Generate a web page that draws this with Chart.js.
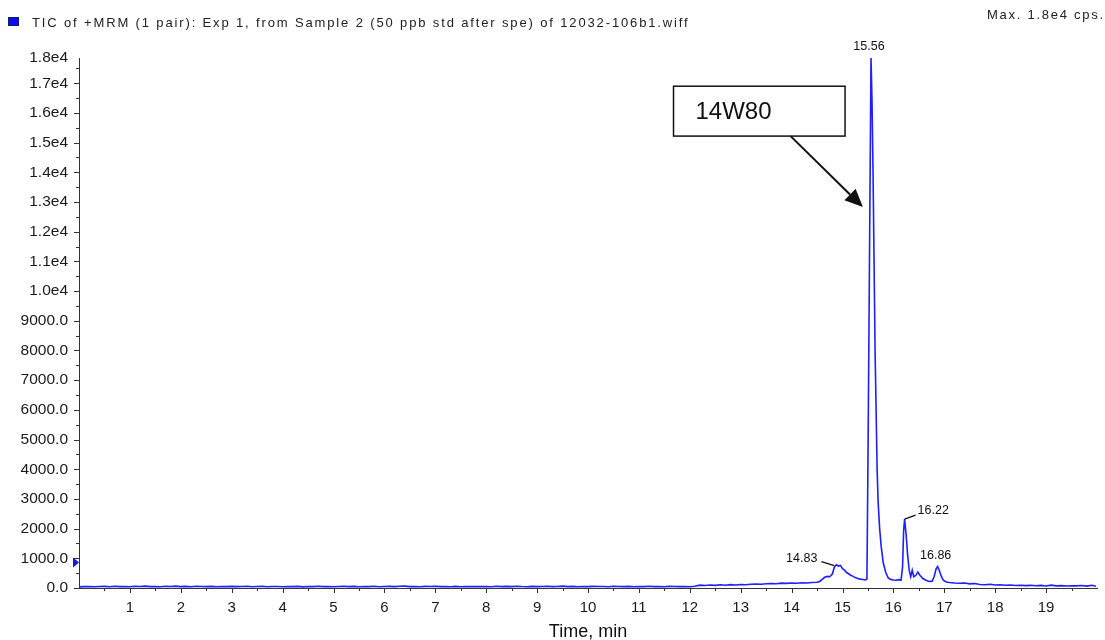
<!DOCTYPE html>
<html><head><meta charset="utf-8">
<script src="https://cdn.jsdelivr.net/npm/chart.js@4.4.0/dist/chart.umd.min.js"></script>
<style>html,body{margin:0;padding:0;background:#fff;}#wrap{width:1105px;height:640px;position:relative;}</style>
</head><body><div id="wrap"><canvas id="c"></canvas></div>
<script>
// ---- data ----
const times = [
 0.0,0.1,0.2,0.3,0.4,0.5,0.6,0.7,0.8,0.9,
 1.0,1.1,1.2,1.3,1.4,1.5,1.6,1.7,1.8,1.9,
 2.0,2.1,2.2,2.3,2.4,2.5,2.6,2.7,2.8,2.9,
 3.0,3.1,3.2,3.3,3.4,3.5,3.6,3.7,3.8,3.9,
 4.0,4.1,4.2,4.3,4.4,4.5,4.6,4.7,4.8,4.9,
 5.0,5.1,5.2,5.3,5.4,5.5,5.6,5.7,5.8,5.9,
 6.0,6.1,6.2,6.3,6.4,6.5,6.6,6.7,6.8,6.9,
 7.0,7.1,7.2,7.3,7.4,7.5,7.6,7.7,7.8,7.9,
 8.0,8.1,8.2,8.3,8.4,8.5,8.6,8.7,8.8,8.9,
 9.0,9.1,9.2,9.3,9.4,9.5,9.6,9.7,9.8,9.9,
 10.0,10.1,10.2,10.3,10.4,10.5,10.6,10.7,10.8,10.9,
 11.0,11.1,11.2,11.3,11.4,11.5,11.6,11.7,11.8,11.9,
 12.0,12.1,12.2,12.3,12.4,12.5,12.6,12.7,12.8,12.9,
 13.0,13.1,13.2,13.3,13.4,13.5,13.6,13.7,13.8,13.9,
 14.0,14.1,14.2,14.3,14.4,14.5,14.55,14.6,14.65,14.7,14.75,14.8,14.84,14.88,14.92,14.96,
 15.0,15.04,15.08,15.12,15.16,15.2,15.25,15.3,15.35,15.4,15.45,15.48,15.5,15.52,15.54,15.56,15.58,15.6,15.62,15.64,15.66,15.68,15.7,15.73,15.76,15.8,15.85,15.9,15.95,
 16.0,16.05,16.1,16.15,16.18,16.2,16.22,16.25,16.28,16.31,16.34,16.37,16.4,16.44,16.48,16.52,16.58,16.64,16.7,16.76,16.8,16.84,16.87,16.9,16.94,16.98,
 17.04,17.1,17.2,17.3,17.4,17.5,17.6,17.7,17.8,17.9,
 18.0,18.1,18.2,18.3,18.4,18.5,18.6,18.7,18.8,18.9,
 19.0,19.1,19.2,19.3,19.4,19.5,19.6,19.7,19.8,19.9,19.98
];
const counts = [
 38,45,52,40,48,55,42,60,47,51,
 44,58,49,62,46,53,41,57,50,64,
 48,55,43,59,51,46,56,40,52,47,
 54,45,50,61,43,49,57,44,53,48,
 42,51,46,55,39,50,45,58,47,52,
 44,53,60,48,55,42,50,46,57,41,
 49,54,45,58,62,47,51,43,56,50,
 59,46,52,44,55,40,50,47,53,45,
 51,43,57,48,54,46,60,49,44,55,
 47,52,58,45,50,63,48,54,42,51,
 46,55,49,53,44,58,50,47,56,43,
 52,48,57,45,51,41,54,49,46,53,
 44,58,96,84,102,90,108,95,114,103,
 120,110,126,133,128,145,152,141,163,155,
 170,162,178,168,185,192,220,290,360,390,380,470,700,780,740,760,
 650,600,520,480,430,400,350,320,300,285,270,300,4200,8700,13300,17850,16400,14000,11000,8000,6000,4000,2900,2000,1400,850,520,330,290,
 270,260,280,260,700,1900,2320,1800,1100,600,380,600,380,420,540,430,320,260,220,230,380,650,720,600,400,260,
 200,185,170,160,170,140,150,120,110,125,
 100,108,92,100,85,95,80,90,75,88,
 70,95,72,80,66,78,70,82,64,90,60
];
const xTickValues = [1,2,3,4,5,6,7,8,9,10,11,12,13,14,15,16,17,18,19];
const xTickLabels = ['1','2','3','4','5','6','7','8','9','10','11','12','13','14','15','16','17','18','19'];
const yTickValues = [0,1000,2000,3000,4000,5000,6000,7000,8000,9000,10000,11000,12000,13000,14000,15000,16000,17000,17850];
const yTickLabels = ['0.0','1000.0','2000.0','3000.0','4000.0','5000.0','6000.0','7000.0','8000.0','9000.0','1.0e4','1.1e4','1.2e4','1.3e4','1.4e4','1.5e4','1.6e4','1.7e4','1.8e4'];
const peakTimes = [15.56, 14.86, 16.22, 16.87];
const peakValues = [17850, 720, 2320, 720];
const peakTexts = ['15.56', '14.83', '16.22', '16.86'];
const titleText = 'TIC of +MRM (1 pair): Exp 1, from Sample 2 (50 ppb std after spe) of 12032-106b1.wiff';
const maxText = 'Max. 1.8e4 cps.';
const xAxisTitle = 'Time, min';
const calloutText = '14W80';
const markerValue = 860;

const FONT = '"Liberation Sans", Arial, sans-serif';

function spacedText(ctx, text, x, y, targetWidth, size) {
  ctx.font = size + 'px ' + FONT;
  ctx.letterSpacing = '0px';
  const w = ctx.measureText(text).width;
  const sp = (targetWidth - w) / (text.length - 1);
  ctx.letterSpacing = sp.toFixed(2) + 'px';
  ctx.fillText(text, x, y);
  ctx.letterSpacing = '0px';
}

const overlay = {
  id: 'overlay',
  afterDraw(chart) {
    const ctx = chart.ctx;
    const xs = chart.scales.x, ys = chart.scales.y;
    const ca = chart.chartArea;
    ctx.save();
    // ticks
    ctx.strokeStyle = '#333';
    ctx.lineWidth = 1;
    ctx.beginPath();
    for (let k = 1; k <= 39; k++) {
      const v = k * 0.5;
      const px = Math.round(xs.getPixelForValue(v)) + 0.5;
      const len = (k % 2 === 0) ? 5 : 3;
      ctx.moveTo(px, ca.bottom); ctx.lineTo(px, ca.bottom + len);
    }
    for (let k = 0; k <= 35; k++) {
      const v = k * 500;
      const py = Math.round(ys.getPixelForValue(v)) + 0.5;
      const len = (k % 2 === 0) ? 5 : 3;
      ctx.moveTo(ca.left, py); ctx.lineTo(ca.left - len, py);
    }
    ctx.stroke();

    // legend square + title
    ctx.fillStyle = '#0a0aff';
    ctx.fillRect(8, 17, 11, 9);
    ctx.strokeStyle = '#1a1a60';
    ctx.lineWidth = 1;
    ctx.strokeRect(8.5, 17.5, 10, 8);
    ctx.fillStyle = '#222';
    ctx.textBaseline = 'middle';
    ctx.textAlign = 'left';
    spacedText(ctx, titleText, 32, 23, 656, 13);
    spacedText(ctx, maxText, 987, 15, 116, 13);

    // x axis title
    ctx.font = '18px ' + FONT;
    ctx.textAlign = 'center';
    ctx.fillStyle = '#111';
    ctx.fillText(xAxisTitle, (ca.left + ca.right) / 2, 632);

    // peak labels
    ctx.font = '12.5px ' + FONT;
    ctx.fillStyle = '#111';
    ctx.strokeStyle = '#111';
    ctx.lineWidth = 1.2;
    peakTimes.forEach((t, i) => {
      const px = xs.getPixelForValue(t), py = ys.getPixelForValue(peakValues[i]);
      const txt = peakTexts[i];
      if (i === 0) {
        ctx.textAlign = 'center';
        ctx.fillText(txt, px - 2, py - 11);
      } else if (i === 1) {
        ctx.beginPath(); ctx.moveTo(px - 14, py - 5); ctx.lineTo(px - 1, py - 1); ctx.stroke();
        ctx.textAlign = 'right';
        ctx.fillText(txt, px - 18, py - 8);
      } else if (i === 2) {
        ctx.beginPath(); ctx.moveTo(px, py); ctx.lineTo(px + 11, py - 4); ctx.stroke();
        ctx.textAlign = 'left';
        ctx.fillText(txt, px + 13, py - 9);
      } else {
        ctx.textAlign = 'center';
        ctx.fillText(txt, px - 2, py - 11);
      }
    });

    // callout box
    const bx0 = xs.getPixelForValue(11.68), bx1 = xs.getPixelForValue(15.05);
    const by0 = ys.getPixelForValue(16900), by1 = ys.getPixelForValue(15220);
    ctx.fillStyle = '#fff';
    ctx.fillRect(bx0, by0, bx1 - bx0, by1 - by0);
    ctx.strokeStyle = '#111';
    ctx.lineWidth = 1.5;
    ctx.strokeRect(bx0, by0, bx1 - bx0, by1 - by0);
    ctx.fillStyle = '#111';
    ctx.font = '24px ' + FONT;
    ctx.textAlign = 'left';
    ctx.fillText(calloutText, bx0 + 22, (by0 + by1) / 2 + 1);

    // arrow
    const ax0 = xs.getPixelForValue(13.98), ay0 = by1;
    const ax1 = xs.getPixelForValue(15.40), ay1 = ys.getPixelForValue(12830);
    const ang = Math.atan2(ay1 - ay0, ax1 - ax0);
    const hl = 18, hw = 8;
    const bxh = ax1 - hl * Math.cos(ang), byh = ay1 - hl * Math.sin(ang);
    ctx.lineWidth = 2;
    ctx.beginPath(); ctx.moveTo(ax0, ay0); ctx.lineTo(bxh, byh); ctx.stroke();
    ctx.beginPath();
    ctx.moveTo(ax1, ay1);
    ctx.lineTo(bxh + hw * Math.sin(ang), byh - hw * Math.cos(ang));
    ctx.lineTo(bxh - hw * Math.sin(ang), byh + hw * Math.cos(ang));
    ctx.closePath(); ctx.fill();

    // axis marker triangle
    const my = ys.getPixelForValue(markerValue);
    ctx.fillStyle = '#1515e6';
    ctx.beginPath();
    ctx.moveTo(ca.left - 6, my - 5);
    ctx.lineTo(ca.left, my);
    ctx.lineTo(ca.left - 6, my + 5);
    ctx.closePath(); ctx.fill();
    ctx.restore();
  }
};

const points = times.map((t, i) => ({x: t, y: counts[i]}));

new Chart(document.getElementById('c'), {
  type: 'line',
  data: { datasets: [{
    data: points,
    borderColor: '#1f1fff',
    borderWidth: 1.6,
    pointRadius: 0,
    tension: 0,
    fill: false
  }]},
  options: {
    responsive: true,
    maintainAspectRatio: false,
    animation: false,
    events: [],
    layout: { padding: { top: 58, right: 8, bottom: 0, left: 0 } },
    plugins: { legend: { display: false }, tooltip: { enabled: false }, title: { display: false } },
    scales: {
      x: {
        type: 'linear', min: 0, max: 20,
        afterBuildTicks: s => { s.ticks = xTickValues.map(v => ({value: v})); },
        afterFit: s => { s.height = 52; },
        ticks: { autoSkip: false, maxRotation: 0, minRotation: 0, padding: 6, color: '#1a1a1a',
                 font: { family: FONT, size: 15 },
                 callback: (v, i) => xTickLabels[i] },
        grid: { display: false, drawTicks: true, tickLength: 5 },
        border: { display: true, color: '#333', width: 1 }
      },
      y: {
        type: 'linear', min: 0, max: 17850,
        afterBuildTicks: s => { s.ticks = yTickValues.map(v => ({value: v})); },
        afterFit: s => { s.width = 79; },
        ticks: { autoSkip: false, padding: 6, color: '#1a1a1a',
                 font: { family: FONT, size: 15.5 },
                 callback: (v, i) => yTickLabels[i] },
        grid: { display: false, drawTicks: true, tickLength: 5 },
        border: { display: true, color: '#333', width: 1 }
      }
    }
  },
  plugins: [overlay]
});
</script>
</body></html>
